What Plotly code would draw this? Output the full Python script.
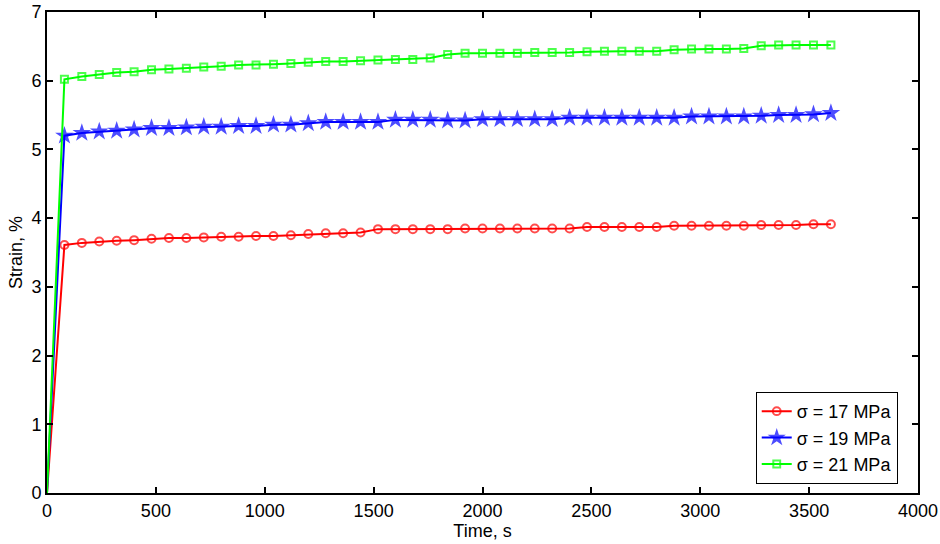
import plotly.graph_objects as go

time_s = [0] + [80 * i for i in range(1, 46)]

strain_17 = [0,
    3.61, 3.64, 3.66, 3.67, 3.68, 3.70, 3.71, 3.71, 3.72, 3.73, 3.73, 3.74, 3.74, 3.75, 3.77, 3.78,
    3.78, 3.79, 3.84, 3.84, 3.84, 3.84, 3.84, 3.85, 3.85, 3.85, 3.85, 3.85, 3.85, 3.85, 3.87, 3.87, 3.87,
    3.87, 3.87, 3.89, 3.89, 3.89, 3.89, 3.89, 3.90, 3.90, 3.90, 3.91, 3.91]

strain_19 = [0,
    5.20, 5.24, 5.26, 5.27, 5.29, 5.31, 5.31, 5.32, 5.33, 5.33, 5.34, 5.34, 5.36, 5.36, 5.38, 5.40,
    5.40, 5.40, 5.40, 5.43, 5.43, 5.43, 5.42, 5.42, 5.44, 5.44, 5.44, 5.44, 5.44, 5.46, 5.46, 5.46, 5.46,
    5.46, 5.46, 5.46, 5.48, 5.48, 5.48, 5.48, 5.49, 5.50, 5.50, 5.51, 5.53]

strain_21 = [0,
    6.02, 6.06, 6.09, 6.12, 6.13, 6.16, 6.17, 6.18, 6.20, 6.21, 6.23, 6.23, 6.24, 6.25, 6.27, 6.28,
    6.28, 6.29, 6.30, 6.31, 6.31, 6.33, 6.38, 6.40, 6.40, 6.40, 6.40, 6.41, 6.41, 6.41, 6.42, 6.43, 6.43,
    6.43, 6.43, 6.45, 6.46, 6.46, 6.46, 6.47, 6.51, 6.52, 6.52, 6.52, 6.52]

series_names = ["σ = 17 MPa", "σ = 19 MPa", "σ = 21 MPa"]
x_ticks = [0, 500, 1000, 1500, 2000, 2500, 3000, 3500, 4000]
y_ticks = [0, 1, 2, 3, 4, 5, 6, 7]


def sizes(n, s):
    # no marker drawn at the origin point
    return [0] + [s] * (n - 1)


FONT = "Liberation Sans, Arial, sans-serif"

fig = go.Figure()
fig.add_trace(go.Scatter(
    x=time_s, y=strain_17, name=series_names[0], mode="lines+markers",
    line=dict(color="#ff0000", width=2),
    marker=dict(symbol="circle-open", size=sizes(len(time_s), 8), color="#ff0000", line=dict(width=2)),
))
fig.add_trace(go.Scatter(
    x=time_s, y=strain_19, name=series_names[1], mode="lines+markers",
    line=dict(color="#0000ff", width=2),
    marker=dict(symbol="star", size=sizes(len(time_s), 14), color="#0000ff", line=dict(width=0)),
))
fig.add_trace(go.Scatter(
    x=time_s, y=strain_21, name=series_names[2], mode="lines+markers",
    line=dict(color="#00ff00", width=2),
    marker=dict(symbol="square-open", size=sizes(len(time_s), 7), color="#00ff00", line=dict(width=2)),
))

axis_common = dict(
    showline=True, linecolor="black", linewidth=2, mirror="ticks",
    ticks="inside", ticklen=6, tickwidth=1.5, tickcolor="black",
    showgrid=False, zeroline=False, automargin=False,
    tickfont=dict(family=FONT, size=18, color="black"),
)

fig.update_layout(
    width=940, height=544,
    margin=dict(l=47, r=22, t=12, b=51),
    paper_bgcolor="white", plot_bgcolor="white",
    font=dict(family=FONT, size=18, color="black"),
    xaxis=dict(range=[0, 4000], tickvals=x_ticks,
               title=dict(text="Time, s", standoff=0, font=dict(size=18)),
               **axis_common),
    yaxis=dict(range=[0, 7], tickvals=y_ticks,
               title=dict(text="Strain, %", standoff=4, font=dict(size=18)),
               **axis_common),
    legend=dict(
        x=0.8137, y=0.0187, xanchor="left", yanchor="bottom",
        bgcolor="white", bordercolor="black", borderwidth=1,
        font=dict(size=18), tracegroupgap=0, itemwidth=30,
    ),
    showlegend=True,
)

fig.write_html("out.html",
               config={"displayModeBar": False},
               post_script="document.body.style.margin='0';document.body.style.overflow='hidden';")
